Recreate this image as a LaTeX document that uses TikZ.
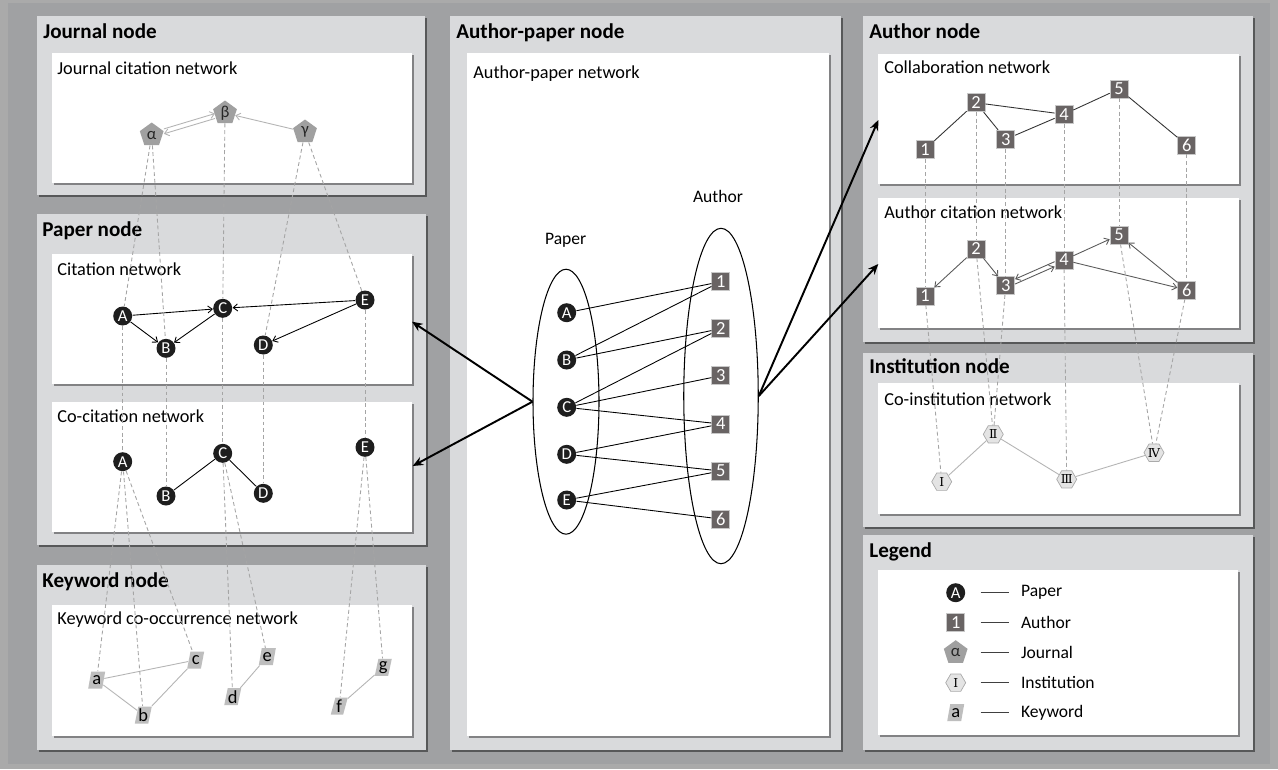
\documentclass[tikz,border=0pt]{standalone}
\usepackage{fontspec}
\setmainfont{Carlito}
\newfontfamily\romnum{DejaVu Serif}
\usepackage{tikz}
\usetikzlibrary{shapes.geometric,shadows,arrows.meta}

\definecolor{bgframe}{RGB}{170,170,170}
\definecolor{bgdark}{RGB}{160,161,163}
\definecolor{panelgray}{RGB}{217,218,220}
\definecolor{paperblack}{RGB}{30,30,30}
\definecolor{authorgray}{RGB}{105,100,100}
\definecolor{authorline}{RGB}{200,200,200}
\definecolor{journalgray}{RGB}{160,160,160}
\definecolor{keygray}{RGB}{190,190,190}
\definecolor{instgray}{RGB}{228,228,228}
\definecolor{instline}{RGB}{170,170,170}
\definecolor{dashgray}{RGB}{165,165,165}
\definecolor{edgegray}{RGB}{180,180,180}
\definecolor{citegray}{RGB}{90,90,90}

\begin{document}
\begin{tikzpicture}[x=0.02cm,y=0.02cm]
\tikzstyle{every node}+=[inner sep=0pt]
\tikzstyle{panel}=[fill=panelgray, drop shadow={shadow xshift=1.3pt, shadow yshift=-1.3pt, opacity=0.45, fill=black}]
\tikzstyle{netbox}=[fill=white, drop shadow={shadow xshift=1pt, shadow yshift=-1pt, opacity=0.4, fill=black}]
\tikzstyle{paneltitle}=[anchor=base west, font=\fontsize{12}{14}\selectfont\bfseries]
\tikzstyle{nettitle}=[anchor=base west, font=\fontsize{10.4}{12}\selectfont]
\tikzstyle{setlabel}=[font=\fontsize{10}{12}\selectfont]
\tikzstyle{paper}=[circle, fill=paperblack, text=white, minimum size=0.38cm, font=\fontsize{9.5}{10}\selectfont]
\tikzstyle{author}=[rectangle, fill=authorgray, draw=authorline, line width=0.4pt, text=white, minimum size=0.36cm, font=\fontsize{10.5}{11}\selectfont]
\tikzstyle{journal}=[regular polygon, regular polygon sides=5, fill=journalgray, text=black!85, minimum size=0.5cm, font=\fontsize{9.5}{10}\selectfont]
\tikzstyle{keyword}=[trapezium, trapezium left angle=75, trapezium right angle=105, trapezium stretches=true, fill=keygray, minimum width=0.34cm, minimum height=0.34cm, font=\fontsize{10.5}{11}\selectfont]
\tikzstyle{inst}=[regular polygon, regular polygon sides=6, fill=instgray, draw=instline, line width=0.4pt, minimum size=0.4cm, font=\romnum\fontsize{7}{8}\selectfont]
\tikzstyle{crosslink}=[dashgray, line width=0.5pt, dash pattern=on 2.2pt off 1.6pt]
\tikzstyle{darkedge}=[black, line width=0.5pt]
\tikzstyle{lightedge}=[edgegray, line width=0.5pt]
\tikzstyle{citeto}=[-{Straight Barb[length=2.5pt,width=4pt]}]
\tikzstyle{bigarrow}=[black, line width=1.1pt, -{Stealth[length=6pt,width=5pt]}]
\tikzstyle{legline}=[black!75, line width=0.6pt]
\useasboundingbox (0,0) rectangle (1278,-769);
% background and panels
\fill [bgframe] (0,0) rectangle (1278,-769);
\fill [bgdark] (8,-3) rectangle (1270,-764);
\fill [panel] (37,-16) rectangle (425,-195);
\fill [panel] (37,-214) rectangle (426,-545);
\fill [panel] (37,-565) rectangle (426,-750);
\fill [panel] (450,-16) rectangle (841,-750);
\fill [panel] (863,-16) rectangle (1253,-342);
\fill [panel] (863,-353) rectangle (1253,-527);
\fill [panel] (863,-535) rectangle (1253,-750);
\fill [netbox] (52,-53) rectangle (412,-183);
\fill [netbox] (52,-254) rectangle (412,-384);
\fill [netbox] (52,-402) rectangle (412,-532);
\fill [netbox] (52,-605) rectangle (412,-736);
\fill [netbox] (467,-53) rectangle (829,-736);
\fill [netbox] (878,-54) rectangle (1239,-184);
\fill [netbox] (878,-198) rectangle (1239,-328);
\fill [netbox] (878,-383) rectangle (1239,-514);
\fill [netbox] (878,-570) rectangle (1238,-735);
% titles
\node [paneltitle] at (43,-38) {Journal node};
\node [nettitle] at (57,-74) {Journal citation network};
\node [paneltitle] at (42,-236) {Paper node};
\node [nettitle] at (57,-275) {Citation network};
\node [nettitle] at (57,-422) {Co-citation network};
\node [paneltitle] at (42,-587) {Keyword node};
\node [nettitle] at (57,-624) {Keyword co-occurrence network};
\node [paneltitle] at (456,-38) {Author-paper node};
\node [nettitle] at (473,-78) {Author-paper network};
\node [paneltitle] at (869,-38) {Author node};
\node [nettitle] at (884,-73) {Collaboration network};
\node [nettitle] at (884,-218) {Author citation network};
\node [paneltitle] at (869,-373) {Institution node};
\node [nettitle] at (884,-405) {Co-institution network};
\node [paneltitle] at (869,-557) {Legend};
% journal citation network
\node [journal] (jal) at (151.7,-135) {α};
\node [journal] (jbe) at (225,-113) {β};
\node [journal] (jga) at (305,-132) {γ};
% citation network
\node [paper] (ca) at (122.7,-316) {A};
\node [paper] (cb) at (166,-348.3) {B};
\node [paper] (cc) at (222.7,-308.3) {C};
\node [paper] (cd) at (263.3,-345) {D};
\node [paper] (ce) at (365,-300) {E};
% co-citation network
\node [paper] (oa) at (122.7,-461.7) {A};
\node [paper] (ob) at (166,-496) {B};
\node [paper] (oc) at (222.7,-453.3) {C};
\node [paper] (od) at (263.3,-493.3) {D};
\node [paper] (oe) at (365,-447.3) {E};
% keyword co-occurrence network
\node [keyword] (ka) at (96.7,-680) {a};
\node [keyword] (kb) at (143.3,-715) {b};
\node [keyword] (kc) at (195.7,-660) {c};
\node [keyword] (kd) at (232.7,-696.7) {d};
\node [keyword] (ke) at (267.3,-656.7) {e};
\node [keyword] (kf) at (339.3,-706) {f};
\node [keyword] (kg) at (383.3,-667.3) {g};
% author-paper network
\node [draw, ellipse, line width=0.6pt, minimum width=1.32cm, minimum height=5.3cm] (paperset) at (566,-401.7) {};
\node [draw, ellipse, line width=0.6pt, minimum width=1.49cm, minimum height=6.71cm] (authorset) at (721,-396) {};
\node [setlabel] (paperlabel) at (565.7,-240.7) {Paper};
\node [setlabel] (authorlabel) at (718,-196) {Author};
\node [paper] (pa) at (566.7,-312.7) {A};
\node [paper] (pb) at (566.7,-360) {B};
\node [paper] (pc) at (566.7,-407.3) {C};
\node [paper] (pd) at (566.7,-454.3) {D};
\node [paper] (pe) at (566.7,-500) {E};
\node [author] (a1) at (720.7,-281.7) {1};
\node [author] (a2) at (720.7,-328.7) {2};
\node [author] (a3) at (720.7,-375.7) {3};
\node [author] (a4) at (720.7,-424) {4};
\node [author] (a5) at (720.7,-471) {5};
\node [author] (a6) at (720.7,-519) {6};
% collaboration network
\node [author] (u1) at (925,-149.3) {1};
\node [author] (u2) at (976,-102.7) {2};
\node [author] (u3) at (1005.7,-139.3) {3};
\node [author] (u4) at (1064,-114.3) {4};
\node [author] (u5) at (1119,-89) {5};
\node [author] (u6) at (1186.7,-145) {6};
% author citation network
\node [author] (v1) at (925,-296) {1};
\node [author] (v2) at (976,-249) {2};
\node [author] (v3) at (1005.7,-285.7) {3};
\node [author] (v4) at (1064,-260) {4};
\node [author] (v5) at (1119,-235) {5};
\node [author] (v6) at (1186.7,-290) {6};
% co-institution network
\node [inst] (i1) at (941.7,-481.7) {Ⅰ};
\node [inst] (i2) at (993.3,-434.3) {Ⅱ};
\node [inst] (i3) at (1066.7,-479.3) {Ⅲ};
\node [inst] (i4) at (1154,-452.7) {Ⅳ};
% legend
\node [paper] (lgpaper) at (955.7,-592.7) {A};
\node [author] (lgauthor) at (955.7,-622.7) {1};
\node [journal] (lgjournal) at (955.7,-652.7) {α};
\node [inst] (lginst) at (955.7,-682.7) {Ⅰ};
\node [keyword] (lgkey) at (955.7,-712.7) {a};
\node [setlabel, anchor=west] (ltpaper) at (1020.7,-592.7) {Paper};
\node [setlabel, anchor=west] (ltauthor) at (1020.7,-622.7) {Author};
\node [setlabel, anchor=west] (ltjournal) at (1020.7,-652.7) {Journal};
\node [setlabel, anchor=west] (ltinst) at (1020.7,-682.7) {Institution};
\node [setlabel, anchor=west] (ltkey) at (1020.7,-712.7) {Keyword};
\draw [legline] ([xshift=-0.8cm]ltpaper.west) -- ([xshift=-0.23cm]ltpaper.west);
\draw [legline] ([xshift=-0.8cm]ltauthor.west) -- ([xshift=-0.23cm]ltauthor.west);
\draw [legline] ([xshift=-0.8cm]ltjournal.west) -- ([xshift=-0.23cm]ltjournal.west);
\draw [legline] ([xshift=-0.8cm]ltinst.west) -- ([xshift=-0.23cm]ltinst.west);
\draw [legline] ([xshift=-0.8cm]ltkey.west) -- ([xshift=-0.23cm]ltkey.west);
% edges inside the networks
\draw [lightedge, citeto, transform canvas={yshift=1.4pt}] (jal) -- (jbe);
\draw [lightedge, citeto, transform canvas={yshift=-1.4pt}] (jbe) -- (jal);
\draw [lightedge, citeto] (jga) -- (jbe);
\draw [darkedge, citeto] (ca) -- (cc);
\draw [darkedge, citeto] (ca) -- (cb);
\draw [darkedge, citeto] (cc) -- (cb);
\draw [darkedge, citeto] (ce) -- (cc);
\draw [darkedge, citeto] (ce) -- (cd);
\draw [darkedge] (oc) -- (ob);
\draw [darkedge] (oc) -- (od);
\draw [lightedge] (ka) -- (kc);
\draw [lightedge] (ka) -- (kb);
\draw [lightedge] (kb) -- (kc);
\draw [lightedge] (kd) -- (ke);
\draw [lightedge] (kf) -- (kg);
\draw [darkedge] (pa) -- (a1);
\draw [darkedge] (pb) -- (a1);
\draw [darkedge] (pb) -- (a2);
\draw [darkedge] (pc) -- (a2);
\draw [darkedge] (pc) -- (a3);
\draw [darkedge] (pc) -- (a4);
\draw [darkedge] (pd) -- (a4);
\draw [darkedge] (pd) -- (a5);
\draw [darkedge] (pe) -- (a5);
\draw [darkedge] (pe) -- (a6);
\draw [black!80, line width=0.5pt] (u1) -- (u2);
\draw [black!80, line width=0.5pt] (u2) -- (u3);
\draw [black!80, line width=0.5pt] (u2) -- (u4);
\draw [black!80, line width=0.5pt] (u3) -- (u4);
\draw [black!80, line width=0.5pt] (u4) -- (u5);
\draw [black!80, line width=0.5pt] (u5) -- (u6);
\draw [citegray, line width=0.5pt, citeto] (v2) -- (v1);
\draw [citegray, line width=0.5pt, citeto] (v2) -- (v3);
\draw [citegray, line width=0.5pt, citeto, transform canvas={yshift=-1.4pt}] (v3) -- (v4);
\draw [citegray, line width=0.5pt, citeto, transform canvas={yshift=1.4pt}] (v4) -- (v3);
\draw [citegray, line width=0.5pt, citeto] (v4) -- (v5);
\draw [citegray, line width=0.5pt, citeto] (v4) -- (v6);
\draw [citegray, line width=0.5pt, citeto] (v6) -- (v5);
\draw [lightedge] (i1) -- (i2);
\draw [lightedge] (i2) -- (i3);
\draw [lightedge] (i3) -- (i4);
% dashed links between layers
\draw [crosslink] (jal) -- (ca);
\draw [crosslink] (jal) -- (cb);
\draw [crosslink] (jbe) -- (cc);
\draw [crosslink] (jga) -- (cd);
\draw [crosslink] (jga) -- (ce);
\draw [crosslink] (ca) -- (oa);
\draw [crosslink] (cb) -- (ob);
\draw [crosslink] (cc) -- (oc);
\draw [crosslink] (cd) -- (od);
\draw [crosslink] (ce) -- (oe);
\draw [crosslink] (oa) -- (ka);
\draw [crosslink] (oa) -- (kb);
\draw [crosslink] (oa) -- (kc);
\draw [crosslink] (oc) -- (kd);
\draw [crosslink] (oc) -- (ke);
\draw [crosslink] (oe) -- (kf);
\draw [crosslink] (oe) -- (kg);
\draw [crosslink] (u1) -- (v1);
\draw [crosslink] (u2) -- (v2);
\draw [crosslink] (u3) -- (v3);
\draw [crosslink] (u4) -- (v4);
\draw [crosslink] (u5) -- (v5);
\draw [crosslink] (u6) -- (v6);
\draw [crosslink] (v1) -- (i1);
\draw [crosslink] (v2) -- (i2);
\draw [crosslink] (v3) -- (i2);
\draw [crosslink] (v4) -- (i3);
\draw [crosslink] (v5) -- (i4);
\draw [crosslink] (v6) -- (i4);
% arrows out of the author-paper network
\coordinate (citin) at (412,-321.7);
\coordinate (cocitin) at (412.7,-466);
\coordinate (collabin) at (878.3,-120);
\coordinate (authcitin) at (878.3,-264);
\draw [bigarrow] (paperset.west) -- (citin);
\draw [bigarrow] (paperset.west) -- (cocitin);
\draw [bigarrow] (authorset.east) -- (collabin);
\draw [bigarrow] (authorset.east) -- (authcitin);
\end{tikzpicture}
\end{document}
